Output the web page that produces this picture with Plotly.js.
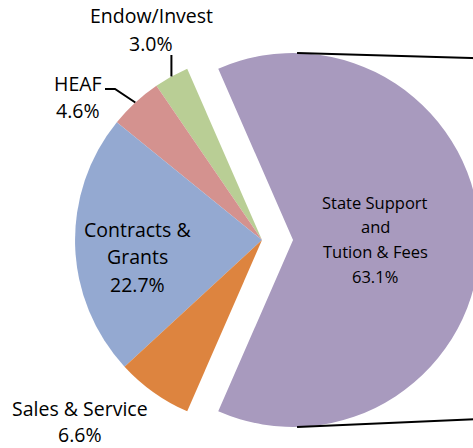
<!DOCTYPE html>
<html>
<head>
<meta charset="utf-8">
<script src="https://cdn.plot.ly/plotly-3.0.1.min.js"></script>
<style>
  html, body { margin: 0; padding: 0; overflow: hidden; background: #fff; }
  #chart { width: 600px; height: 500px; position: absolute; left: 0; top: 0; }
</style>
</head>
<body>
<div id="chart"></div>
<script>
// ---- data ----
const labels = ['State Support<br>and<br>Tution & Fees', 'Endow/Invest', 'HEAF', 'Contracts &<br>Grants', 'Sales & Service'];
const values = [63.1, 3.0, 4.6, 22.7, 6.6];
const colors = ['#A89ABE', '#B9CE95', '#D4928F', '#94A9D1', '#DD843F'];

// ---- geometry / style (pixels) ----
const W = 600, H = 500;
const M = {l: 44, t: 22, r: 120, b: 42};
const BOX = 436;
const pullFrac = 0.166;
const R = BOX / (2 + 2 * pullFrac);
const CX = M.l + BOX / 2, CY = M.t + BOX / 2;
function toPaper(px, py) { return [(px - M.l) / BOX, 1 - (py - M.t) / BOX]; }

const total = values.reduce((a, b) => a + b, 0);
const firstSpan = values[0] / total * 360;
const rotation = 90 - firstSpan / 2;

// math angles (ccw from east) for slice mids
const mids = [];
let acc = firstSpan / 2;
mids.push(0);
for (let i = 1; i < values.length; i++) {
  const span = values[i] / total * 360;
  mids.push(acc + span / 2);
  acc += span;
}
function edgePt(i) {
  const a = mids[i] * Math.PI / 180;
  return [CX + R * Math.cos(a), CY - R * Math.sin(a)];
}

// label placement: [center x px, first-line center y px, line spacing, font size]
const place = [
  [375, 202, 24.7, 16.5],
  [151, 16, 27, 19.5],
  [78, 83, 27, 19.5],
  [137, 229, 27.5, 19.5],
  [80, 408.5, 26, 19.5]
];

const annotations = [];
labels.forEach((lab, i) => {
  const lines = lab.split('<br>').concat([values[i].toFixed(1) + '%']);
  const p = place[i];
  lines.forEach((ln, k) => {
    const [xp, yp] = toPaper(p[0], p[1] + k * p[2]);
    annotations.push({
      xref: 'paper', yref: 'paper', x: xp, y: yp,
      xanchor: 'center', yanchor: 'middle',
      text: ln, showarrow: false,
      font: {family: '"Open Sans", Lato, sans-serif', size: p[3], color: '#000'}
    });
  });
});

// leader lines
const shapes = [];
function pathFrom(pts) {
  return pts.map((q, j) => {
    const [x, y] = toPaper(q[0], q[1]);
    return (j ? 'L' : 'M') + x + ',' + y;
  }).join(' ');
}
const heafEdge = edgePt(2);
shapes.push({type: 'path', xref: 'paper', yref: 'paper',
  path: pathFrom([[105, 89], [115, 89], heafEdge]),
  line: {color: '#000', width: 2}});
const endowEdge = edgePt(1);
shapes.push({type: 'path', xref: 'paper', yref: 'paper',
  path: pathFrom([[endowEdge[0], 55], endowEdge]),
  line: {color: '#000', width: 2}});

// connector lines from pulled slice
const pcx = CX + pullFrac * R;
shapes.push({type: 'path', xref: 'paper', yref: 'paper',
  path: pathFrom([[pcx + 4, CY - R], [M.l + BOX, CY - R + 5.3]]),
  line: {color: '#000', width: 2}});
shapes.push({type: 'path', xref: 'paper', yref: 'paper',
  path: pathFrom([[pcx + 4, CY + R], [M.l + BOX, CY + R - 8]]),
  line: {color: '#000', width: 2}});

const trace = {
  type: 'pie',
  labels: labels,
  values: values,
  sort: false,
  direction: 'counterclockwise',
  rotation: rotation,
  pull: values.map((v, i) => i === 0 ? pullFrac : 0),
  marker: {colors: colors, line: {width: 0}},
  textinfo: 'none',
  hoverinfo: 'none',
  showlegend: false,
  domain: {x: [0, 1], y: [0, 1]}
};

Plotly.newPlot('chart', [trace], {
  width: W, height: H,
  margin: M,
  paper_bgcolor: '#fff',
  showlegend: false,
  annotations: annotations,
  shapes: shapes
}, {staticPlot: true});
</script>
</body>
</html>
